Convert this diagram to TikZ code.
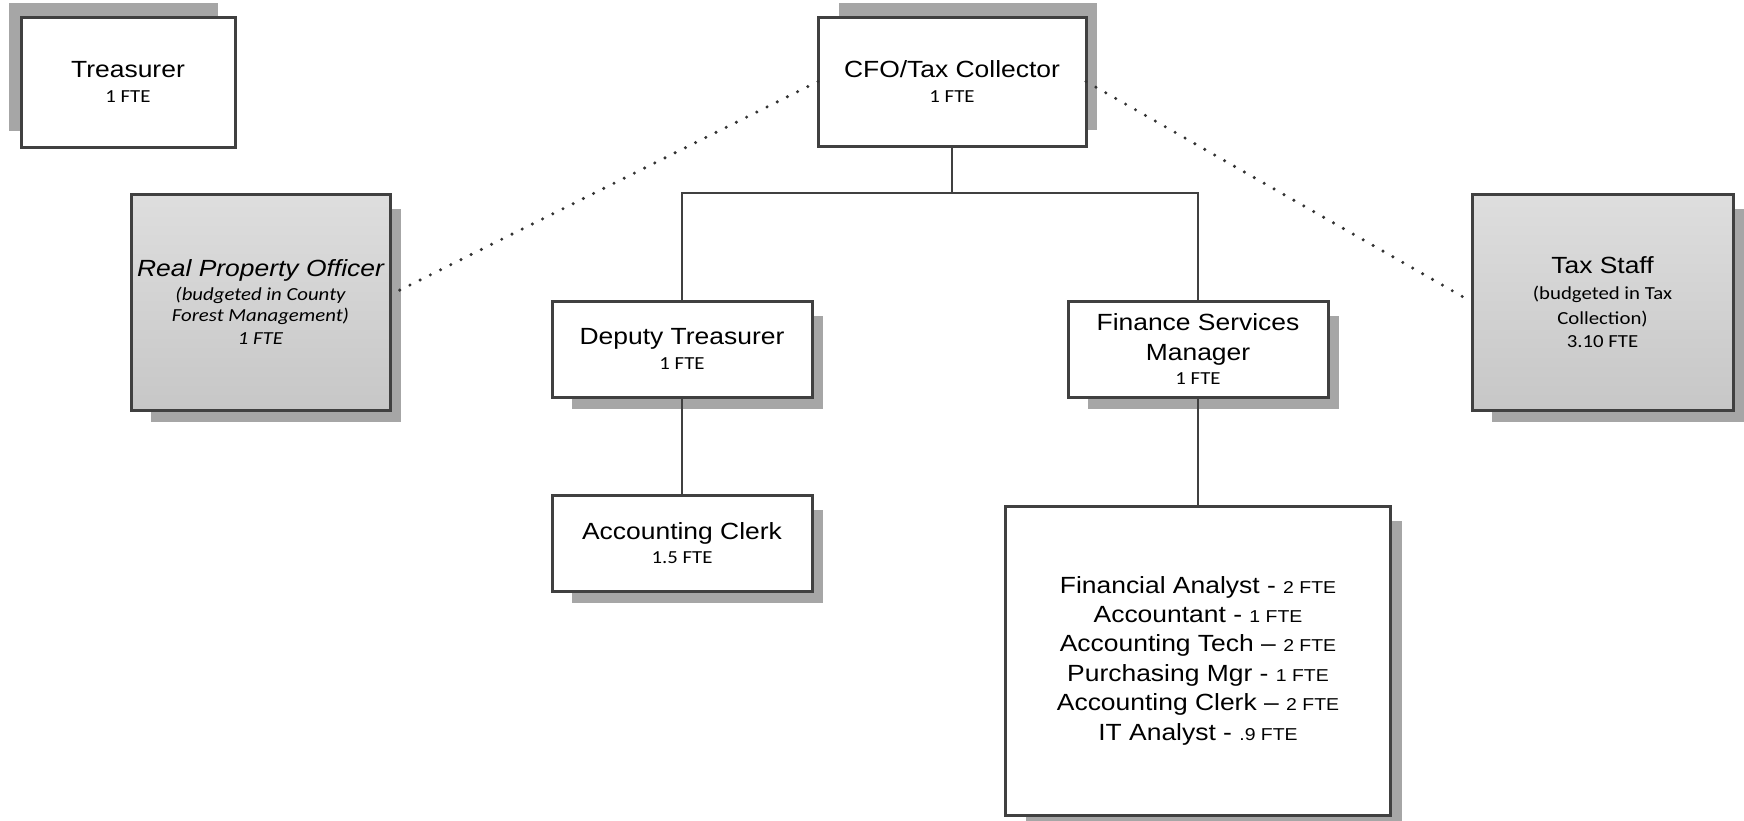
\documentclass[tikz,border=0pt]{standalone}
\usepackage{fontspec}
\setmainfont[FakeStretch=1.13]{Liberation Sans}
\newfontfamily\carlito[FakeStretch=1.13]{Carlito}
\usepackage{tikz}
\usetikzlibrary{positioning, calc, backgrounds}

\newcommand{\fte}[1]{{\carlito\fontsize{9.2}{11}\selectfont #1}}
\newcommand{\teamfte}[1]{{\fontsize{8.6}{10}\selectfont #1}}

\begin{document}
\begin{tikzpicture}[
  x=0.5pt, y=-0.5pt,
  box/.style={draw=black!75, line width=1.5pt, fill=white, inner sep=0pt, outer sep=0pt, align=center,
    minimum width=130pt, minimum height=48pt, font=\fontsize{11.7}{12.4}\selectfont},
  greybox/.style={box, top color=black!13, bottom color=black!22},
  link/.style={draw=black!75, line width=0.9pt},
  dotlink/.style={draw=black!80, line width=1.7pt, line cap=round, dash pattern=on 0pt off 5.7pt},
  shadowfill/.style={fill=black!35},
]
\useasboundingbox (0,0) rectangle (1744,820);

% --- Top row
\node[box, minimum width=107pt, minimum height=65pt] (treasurer) at (128,82)
  {Treasurer\\\fte{1 FTE}};
\node[box, minimum width=134pt, minimum height=64.5pt] (cfo) at (952,81.5)
  {CFO/Tax Collector\\\fte{1 FTE}};

% --- Grey side boxes (budgeted elsewhere)
\node[greybox, minimum width=129.5pt, minimum height=108pt] (rpo) at (260.5,302)
  {{\itshape Real Property Officer}\\[-0.4pt]\fte{\itshape (budgeted in County}\\[-1.8pt]
   \fte{\itshape Forest Management)}\\[-1.3pt]\fte{\itshape 1 FTE}};
\node[greybox, minimum width=130.5pt, minimum height=108pt] (taxstaff) at (1602.5,302)
  {Tax Staff\\[0.7pt]\fte{(budgeted in Tax}\\\fte{Collection)}\\[-0.8pt]\fte{3.10 FTE}};

% --- Second and third rows
\node[box] (deputy) at (682,349) {Deputy Treasurer\\\fte{1 FTE}};
\node[box] (finance) at (1198,349) {Finance Services\\[2.2pt]Manager\\[-0.4pt]\fte{1 FTE}};
\node[box, below=49pt of deputy] (clerk) {Accounting Clerk\\\fte{1.5 FTE}};
\node[box, font=\fontsize{11.7}{14.7}\selectfont, minimum width=192.5pt, minimum height=154.5pt,
  below=54.5pt of finance] (team) {
  Financial Analyst - \teamfte{2 FTE}\\
  Accountant - \teamfte{1 FTE}\\
  Accounting Tech -- \teamfte{2 FTE}\\
  Purchasing Mgr - \teamfte{1 FTE}\\
  Accounting Clerk -- \teamfte{2 FTE}\\
  IT Analyst - \teamfte{.9 FTE}
};

% --- Shadows
\begin{scope}[on background layer]
  \fill[shadowfill] ($(treasurer.north west)+(-12,-14)$) rectangle ($(treasurer.south east)+(-17,-16)$);
  \fill[shadowfill] ($(cfo.north west)+(21,-14)$) rectangle ($(cfo.south east)+(11,-16)$);
  \foreach \n in {rpo, taxstaff, deputy, finance, clerk, team}
    \fill[shadowfill] ($(\n.north west)+(20,15)$) rectangle ($(\n.south east)+(11,12)$);
\end{scope}

% --- Reporting lines
\coordinate (bar) at ($(cfo.south)+(0,47)$);
\draw[link] (cfo.south) -- (bar);
\draw[link] (deputy.north) |- (bar) -| (finance.north);
\draw[link] (deputy.south) -- (clerk.north);
\draw[link] (finance.south) -- (team.north);

% --- Dotted links
\draw[dotlink] (cfo.west) -- ([yshift=3.5pt]rpo.east);
\draw[dotlink] (cfo.east) -- (taxstaff.west);

\end{tikzpicture}
\end{document}
